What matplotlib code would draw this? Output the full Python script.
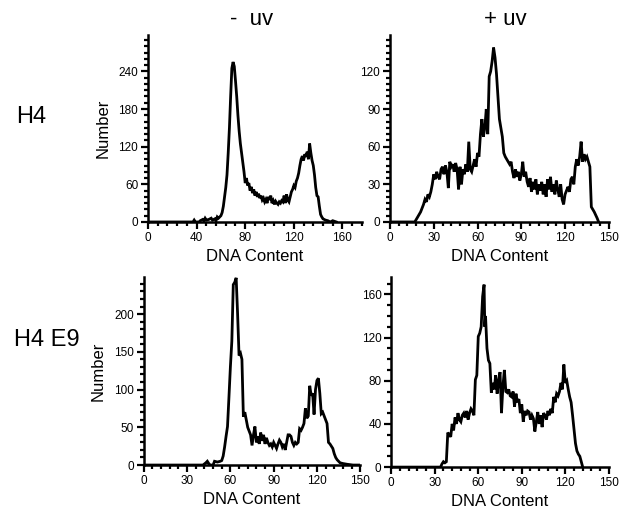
import numpy as np
import matplotlib
matplotlib.use("Agg")
from matplotlib import pyplot as plt
from matplotlib.ticker import MultipleLocator

plt.rcParams['font.family'] = ['Liberation Sans', 'DejaVu Sans']

# H4, - uv  (DNA content, number of cells)
h4_pts = [(0, 0), (37, 0), (38, 3), (39, 0), (42, 0), (43, 2), (45, 4), (46, 2), (47, 6), (48, 3),
          (50, 4), (52, 6), (53, 3), (55, 5), (56, 2), (57, 8), (58, 6), (60, 10), (61, 15),
          (62, 25), (63, 40), (64, 55), (65, 75), (66, 110), (67, 150), (68, 200), (69, 245),
          (70, 255), (71, 248), (72, 225), (73, 200), (74, 170), (75, 145), (76, 125), (77, 110),
          (78, 95), (79, 80), (80, 62), (81, 70), (82, 58), (83, 62), (84, 50), (85, 56), (86, 46),
          (87, 52), (88, 42), (89, 48), (90, 40), (91, 45), (92, 38), (93, 42), (94, 35), (95, 38),
          (96, 32), (97, 36), (98, 30), (99, 40), (100, 35), (101, 42), (102, 30), (103, 34),
          (104, 28), (105, 33), (106, 30), (107, 28), (108, 32), (109, 30), (110, 34), (111, 32),
          (112, 42), (113, 30), (114, 44), (115, 35), (116, 32), (117, 40), (118, 48), (119, 52),
          (120, 58), (121, 55), (122, 65), (123, 70), (124, 78), (125, 90), (126, 100), (127, 105),
          (128, 98), (129, 108), (130, 104), (131, 112), (132, 100), (133, 125), (134, 110),
          (135, 98), (136, 90), (137, 75), (138, 55), (139, 42), (140, 40), (141, 25), (142, 12),
          (143, 8), (144, 5), (145, 4), (146, 3), (148, 2), (150, 0), (152, 2), (155, 0)]
h4_x = [p[0] for p in h4_pts]
h4_y = [p[1] for p in h4_pts]

# H4, + uv
h4uv_pts = [(0, 0), (17, 0), (19, 4), (21, 8), (23, 14), (24, 18), (25, 16), (26, 22), (27, 20),
            (28, 24), (29, 30), (30, 38), (31, 34), (32, 40), (33, 36), (34, 34), (35, 42), (36, 44),
            (37, 38), (38, 45), (39, 40), (40, 27), (41, 48), (42, 44), (43, 46), (44, 40), (45, 47),
            (46, 42), (47, 26), (48, 44), (49, 30), (50, 42), (51, 38), (52, 46), (53, 40),
            (54, 64), (55, 42), (56, 40), (57, 45), (58, 50), (59, 44), (60, 55), (61, 52),
            (62, 70), (63, 82), (64, 68), (65, 75), (66, 90), (67, 70), (68, 116), (69, 120),
            (70, 128), (71, 139), (72, 131), (73, 118), (74, 100), (75, 82), (76, 75), (77, 68),
            (78, 55), (79, 52), (80, 50), (81, 48), (82, 46), (83, 48), (84, 40), (85, 35),
            (86, 42), (87, 36), (88, 40), (89, 33), (90, 38), (91, 48), (92, 36), (93, 40),
            (94, 32), (95, 28), (96, 35), (97, 24), (98, 32), (99, 26), (100, 34), (101, 22),
            (102, 30), (103, 25), (104, 32), (105, 22), (106, 30), (107, 20), (108, 34), (109, 26),
            (110, 36), (111, 24), (112, 30), (113, 22), (114, 33), (115, 26), (116, 20), (117, 30),
            (118, 18), (119, 14), (120, 22), (121, 25), (122, 28), (123, 24), (124, 34), (125, 36),
            (126, 30), (127, 44), (128, 50), (129, 45), (130, 52), (131, 64), (132, 48),
            (133, 54), (134, 50), (135, 52), (136, 48), (137, 44), (138, 12), (140, 8),
            (142, 3), (143, 0)]
h4uv_x = [p[0] for p in h4uv_pts]
h4uv_y = [p[1] for p in h4uv_pts]

# H4E9, - uv
e9_pts = [(0, 0), (41, 0), (43, 3), (44, 5), (45, 2), (46, 0), (48, 0), (49, 5), (51, 4), (53, 5),
          (54, 6), (55, 12), (56, 24), (57, 38), (58, 51), (59, 90), (60, 130), (61, 164),
          (62, 239), (63, 242), (64, 248), (65, 200), (66, 145), (67, 148), (68, 140), (69, 64),
          (70, 70), (71, 60), (72, 50), (73, 45), (74, 40), (75, 26), (76, 40), (77, 51), (78, 30),
          (79, 38), (80, 28), (81, 43), (82, 32), (83, 40), (84, 28), (85, 36), (86, 30), (87, 26),
          (88, 28), (89, 24), (90, 30), (91, 26), (92, 22), (93, 28), (94, 33), (95, 30), (96, 24),
          (97, 28), (98, 20), (99, 30), (100, 40), (101, 40), (102, 38), (103, 30), (104, 26),
          (105, 30), (106, 28), (107, 30), (108, 48), (109, 46), (110, 50), (111, 55), (112, 75),
          (113, 62), (114, 65), (115, 105), (116, 92), (117, 95), (118, 67), (119, 100),
          (120, 112), (121, 115), (122, 95), (123, 68), (124, 70), (125, 65), (126, 60),
          (127, 55), (128, 30), (129, 28), (130, 25), (131, 22), (132, 15), (133, 10), (134, 7),
          (135, 5), (136, 3), (138, 2), (141, 1), (145, 0), (150, 0)]
e9_x = [p[0] for p in e9_pts]
e9_y = [p[1] for p in e9_pts]

# H4E9, + uv
e9uv_pts = [(0, 0), (34, 0), (35, 3), (36, 5), (37, 4), (38, 5), (39, 32), (40, 30), (41, 28),
            (42, 40), (43, 34), (44, 46), (45, 40), (46, 50), (47, 44), (48, 42), (49, 48),
            (50, 50), (51, 46), (52, 52), (53, 44), (54, 50), (55, 54), (56, 52), (57, 48),
            (58, 81), (59, 85), (60, 121), (61, 124), (62, 130), (63, 158), (64, 169), (64.5, 130),
            (65, 140), (66, 110), (67, 99), (68, 96), (69, 69), (70, 78), (71, 72), (72, 85),
            (73, 68), (74, 80), (75, 88), (76, 50), (77, 75), (78, 90), (79, 70), (80, 69),
            (81, 72), (82, 66), (83, 65), (84, 70), (85, 56), (86, 68), (87, 60), (88, 63),
            (89, 50), (90, 58), (91, 42), (92, 52), (93, 48), (94, 52), (95, 51), (96, 44),
            (97, 48), (98, 45), (99, 33), (100, 42), (101, 51), (102, 40), (103, 48), (104, 37),
            (105, 50), (106, 48), (107, 44), (108, 52), (109, 48), (110, 54), (111, 50),
            (112, 65), (113, 60), (114, 68), (115, 66), (116, 70), (117, 78), (118, 72),
            (119, 95), (120, 78), (121, 80), (122, 72), (123, 65), (124, 60), (125, 48),
            (126, 35), (127, 22), (128, 15), (129, 12), (130, 10), (131, 5), (132, 0)]
e9uv_x = [p[0] for p in e9uv_pts]
e9uv_y = [p[1] for p in e9uv_pts]

fig = plt.figure(figsize=(6.2, 5.15), dpi=100)

panels = [
    # rect, x, y, xlim, ylim, xmajor, xminor, ymajor, yminor
    ([0.2387, 0.569, 0.345, 0.363], h4_x, h4_y, 176, 298, 40, 8, 60, 10),
    ([0.629, 0.569, 0.353, 0.363], h4uv_x, h4uv_y, 150, 149, 30, 6, 30, 5),
    ([0.232, 0.097, 0.349, 0.365], e9_x, e9_y, 150, 249, 30, 6, 50, 10),
    ([0.631, 0.093, 0.351, 0.369], e9uv_x, e9uv_y, 150, 176, 30, 6, 40, 10),
]

axes = []
for rect, x, y, xmax, ymax, xmaj, xmin, ymaj, ymin in panels:
    ax = fig.add_axes(rect)
    ax.plot(x, y, color='black', lw=2.0, solid_joinstyle='miter')
    ax.set_xlim(0, xmax)
    ax.set_ylim(0, ymax)
    ax.xaxis.set_major_locator(MultipleLocator(xmaj))
    ax.xaxis.set_minor_locator(MultipleLocator(xmin))
    ax.yaxis.set_major_locator(MultipleLocator(ymaj))
    ax.yaxis.set_minor_locator(MultipleLocator(ymin))
    for s in ['top', 'right']:
        ax.spines[s].set_visible(False)
    for s in ['left', 'bottom']:
        ax.spines[s].set_linewidth(1.8)
    ax.tick_params(which='major', direction='out', length=5, width=1.6, labelsize=8.5, pad=2)
    ax.tick_params(which='minor', direction='out', length=3, width=1.6)
    ax.set_xlabel('DNA Content', fontsize=12, labelpad=4)
    axes.append(ax)

axes[0].set_ylabel('Number', fontsize=12, labelpad=6)
axes[2].set_ylabel('Number', fontsize=12, labelpad=6)

fig.text(0.405, 0.962, '-  uv', fontsize=16, ha='center', va='center')
fig.text(0.815, 0.962, '+ uv', fontsize=16, ha='center', va='center')
fig.text(0.05, 0.773, 'H4', fontsize=17, ha='center', va='center')
fig.text(0.075, 0.34, 'H4 E9', fontsize=17, ha='center', va='center')

fig.savefig('out.png', dpi=100)
